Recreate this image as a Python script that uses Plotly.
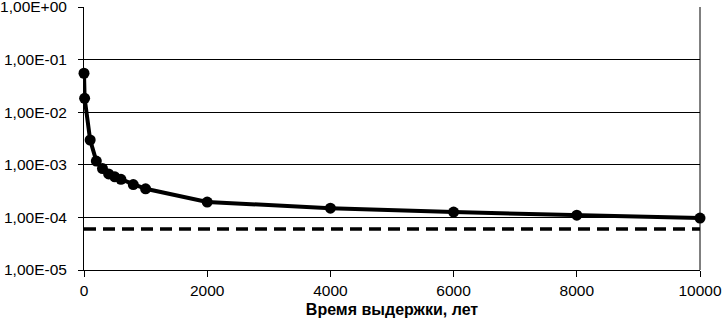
import plotly.graph_objects as go

years = [0, 10, 100, 200, 300, 400, 500, 600, 800, 1000, 2000, 4000, 6000, 8000, 10000]
values = [5.5e-2, 1.84e-2, 2.96e-3, 1.18e-3, 8.5e-4, 6.7e-4, 5.9e-4, 5.3e-4, 4.2e-4, 3.5e-4,
          1.96e-4, 1.5e-4, 1.26e-4, 1.1e-4, 9.7e-5]
limit_x = [0, 10000]
limit_y = [6e-5, 6e-5]
y_tickvals = [1e-5, 1e-4, 1e-3, 1e-2, 1e-1, 1e0]
y_ticktext = ["1,00E-05", "1,00E-04", "1,00E-03", "1,00E-02", "1,00E-01", "1,00E+00"]
x_tickvals = [0, 2000, 4000, 6000, 8000, 10000]
x_ticktext = ["0", "2000", "4000", "6000", "8000", "10000"]
x_title = "Время выдержки, лет"

font = "Liberation Sans, Arial, sans-serif"

fig = go.Figure()
fig.add_trace(go.Scatter(x=limit_x, y=limit_y, mode="lines",
                         line=dict(color="black", width=3.5, dash="12px,7px"),
                         showlegend=False, cliponaxis=False))
fig.add_trace(go.Scatter(x=years, y=values, mode="lines+markers",
                         line=dict(color="black", width=4),
                         marker=dict(color="black", size=11),
                         showlegend=False, cliponaxis=False))

fig.add_shape(type="line", xref="paper", yref="paper", x0=1, x1=1, y0=0, y1=1,
              line=dict(color="black", width=1))

fig.update_layout(
    width=723, height=325,
    margin=dict(l=84, r=23, t=7, b=55),
    paper_bgcolor="white", plot_bgcolor="white",
    font=dict(family=font, size=15.5, color="black"),
    xaxis=dict(range=[0, 10000], tickvals=x_tickvals, ticktext=x_ticktext,
               showgrid=False, zeroline=False,
               showline=True, linecolor="black", linewidth=1, automargin=False,
               ticks="outside", ticklen=6, tickcolor="black",
               ticklabeloverflow="allow",
               title=dict(text="<b>" + x_title + "</b>", font=dict(size=16), standoff=6),
               tickfont=dict(size=15.5)),
    yaxis=dict(type="log", range=[-5, 0], tickvals=y_tickvals, ticktext=y_ticktext,
               showgrid=True, gridcolor="black", gridwidth=1, zeroline=False,
               showline=True, linecolor="black", linewidth=1, automargin=False,
               ticks="outside", ticklen=5, tickcolor="black",
               ticklabeloverflow="allow", ticklabelstandoff=8,
               tickfont=dict(size=15.5)),
)

fig.write_html("out.html", config={"displayModeBar": False},
               post_script="document.body.style.margin='0';")
